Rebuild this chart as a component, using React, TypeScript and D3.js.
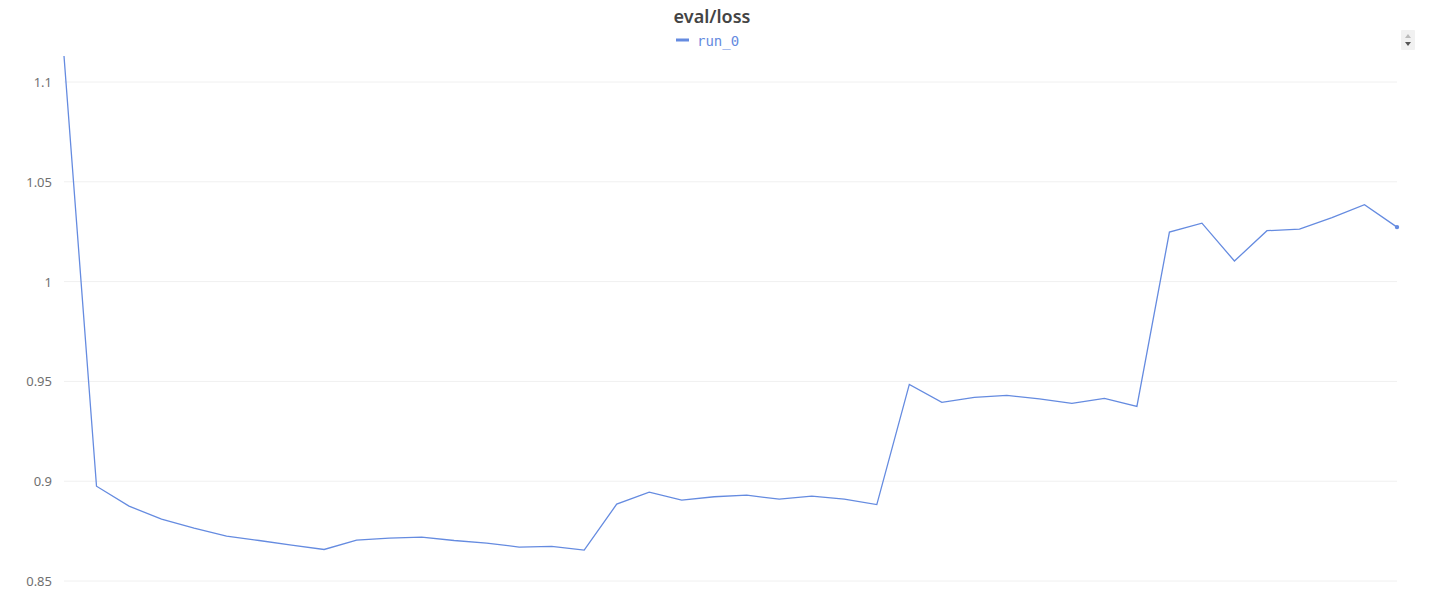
import React from "react";
import * as d3 from "d3";

const steps: number[] = Array.from({ length: 42 }, (_, i) => i);
const lossValues: number[] = [
  1.113, 0.8975, 0.8875, 0.881, 0.8765, 0.8725, 0.8703, 0.868, 0.8658, 0.8705,
  0.8715, 0.872, 0.8703, 0.869, 0.867, 0.8673, 0.8655, 0.8885, 0.8945, 0.8905,
  0.8922, 0.893, 0.891, 0.8925, 0.891, 0.8883, 0.9485, 0.9395, 0.942, 0.943,
  0.9412, 0.939, 0.9415, 0.9375, 1.0248, 1.0293, 1.0103, 1.0255, 1.0263, 1.032,
  1.0385, 1.0273,
];
const yTicks: number[] = [0.85, 0.9, 0.95, 1, 1.05, 1.1];
const seriesName = "run_0";
const chartTitle = "eval/loss";

const W = 1432;
const H = 610;
const LINE_COLOR = "#658be0";

export default function App() {
  const x = d3.scaleLinear().domain([0, 41]).range([64, 1397]);
  const y = d3.scaleLinear().domain([0.85, 1.1]).range([581, 82]);
  const line = d3
    .line<number>()
    .x((_, i) => x(steps[i]))
    .y((d) => y(d));
  const last = lossValues.length - 1;
  return (
    <svg
      width={W}
      height={H}
      style={{ position: "absolute", left: 0, top: 0, background: "#fff" }}
    >
      <text
        x={712}
        y={23}
        textAnchor="middle"
        fontFamily="'Noto Sans', 'Open Sans', sans-serif"
        fontWeight={600}
        fontSize={18}
        fill="#444"
      >
        {chartTitle}
      </text>
      <line x1={676} x2={689} y1={40} y2={40} stroke={LINE_COLOR} strokeWidth={3} />
      <text
        x={697}
        y={46}
        fontFamily="'DejaVu Sans Mono', monospace"
        fontSize={14}
        fill={LINE_COLOR}
      >
        {seriesName}
      </text>
      {/* scroll widget */}
      <rect x={1401} y={30} width={14} height={20} fill="#f1f1f1" rx={1} />
      <path d="M1405,38 L1408,34 L1411,38 Z" fill="#bbb" />
      <path d="M1405,42 L1408,46 L1411,42 Z" fill="#555" />
      {yTicks.map((t) => (
        <g key={t}>
          <line
            x1={64}
            x2={1397}
            y1={y(t)}
            y2={y(t)}
            stroke="#f0f0f0"
            strokeWidth={1}
          />
          <text
            x={52}
            y={y(t) + 5}
            textAnchor="end"
            fontFamily="'Noto Sans', 'Open Sans', sans-serif"
            fontSize={13}
            fill="#707070"
          >
            {String(t)}
          </text>
        </g>
      ))}
      <clipPath id="plotclip">
        <rect x={60} y={54} width={1345} height={540} />
      </clipPath>
      <path
        d={line(lossValues) || ""}
        fill="none"
        stroke={LINE_COLOR}
        strokeWidth={1.3}
        clipPath="url(#plotclip)"
      />
      <circle cx={x(steps[last])} cy={y(lossValues[last])} r={2.2} fill={LINE_COLOR} />
    </svg>
  );
}
